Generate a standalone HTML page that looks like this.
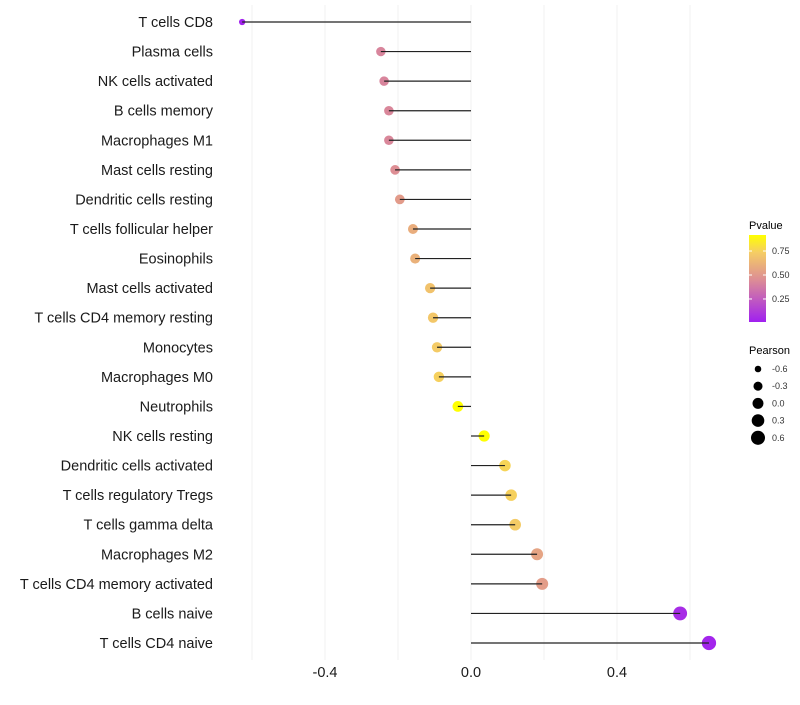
<!DOCTYPE html>
<html><head><meta charset="utf-8"><style>
html,body{margin:0;padding:0;background:#fff;}
svg text{font-family:"Liberation Sans",Arial,sans-serif;}
</style></head><body>
<svg id="chart" width="800" height="700" xmlns="http://www.w3.org/2000/svg">
<g id="grid"></g>
<g id="marks"></g>
<g id="ylabels"></g>
<g id="xlabels"></g>
<g id="legend">
  <defs><linearGradient id="pg" x1="0" y1="1" x2="0" y2="0">
    <stop offset="0" stop-color="#a020f0"/><stop offset="0.48" stop-color="#dc8c96"/><stop offset="0.8" stop-color="#f5cd64"/><stop offset="1" stop-color="#ffff00"/>
  </linearGradient></defs>
  <text x="749" y="229" font-size="11">Pvalue</text>
  <rect x="749" y="235" width="17" height="87" fill="url(#pg)"/>
  <g id="cbticks"></g>
  <text x="749" y="354" font-size="11">Pearson</text>
  <g id="sizeleg"></g>
</g>
</svg>
<script>
const categories=["T cells CD8","Plasma cells","NK cells activated","B cells memory","Macrophages M1","Mast cells resting","Dendritic cells resting","T cells follicular helper","Eosinophils","Mast cells activated","T cells CD4 memory resting","Monocytes","Macrophages M0","Neutrophils","NK cells resting","Dendritic cells activated","T cells regulatory  Tregs","T cells gamma delta","Macrophages M2","T cells CD4 memory activated","B cells naive","T cells CD4 naive"];
const pearson=[-0.627,-0.247,-0.238,-0.225,-0.225,-0.208,-0.195,-0.159,-0.153,-0.112,-0.104,-0.093,-0.088,-0.036,0.036,0.093,0.110,0.121,0.181,0.195,0.573,0.652];
const pvalue=[0.01,0.42,0.42,0.43,0.43,0.46,0.52,0.6,0.62,0.7,0.72,0.74,0.76,0.9,0.9,0.77,0.76,0.74,0.56,0.53,0.05,0.02];
const xTicks=[-0.4,0.0,0.4];
const xGrid=[-0.6,-0.4,-0.2,0,0.2,0.4,0.6];
const sizeLegend=[-0.6,-0.3,0.0,0.3,0.6];
const cbTicks=[0.25,0.5,0.75];
const NS="http://www.w3.org/2000/svg";
const x=v=>471+v*365;
const y=i=>22+i*(643-22)/(categories.length-1);
const r=v=>Math.sqrt(Math.max(4,30+32*v));
function lerp(a,b,t){return a.map((c,k)=>Math.round(c+(b[k]-c)*t));}
function col(p){const s=[[0,[160,32,240]],[0.45,[220,140,150]],[0.75,[245,205,100]],[0.9,[255,255,0]]];
 if(p>=0.9)return"rgb(255,255,0)";for(let k=0;k<s.length-1;k++){if(p<=s[k+1][0]){const t=(p-s[k][0])/(s[k+1][0]-s[k][0]);return"rgb("+lerp(s[k][1],s[k+1][1],Math.max(0,t)).join(",")+")";}}}
function mk(tag,attrs,parent){const e=document.createElementNS(NS,tag);for(const k in attrs)e.setAttribute(k,attrs[k]);parent.appendChild(e);return e;}
const grid=document.getElementById('grid');
xGrid.forEach(v=>{const l=mk('line',{x1:x(v),x2:x(v),y1:5,y2:660,stroke:'#f0f0f0','stroke-width':1},grid);

});
const marks=document.getElementById('marks');
const yl=document.getElementById('ylabels');
categories.forEach((c,i)=>{
 const pt=mk('circle',{cx:x(pearson[i]),cy:y(i),r:r(pearson[i]),fill:col(pvalue[i])},marks);
 
 
 const ln=mk('line',{x1:x(0),x2:x(pearson[i]),y1:y(i),y2:y(i),stroke:'#222','stroke-width':1.2},marks);
 
 
 const t=mk('text',{x:213,y:y(i)+5,'text-anchor':'end','font-size':14.5,fill:'#1a1a1a'},yl);t.textContent=c;
 
 
});
const xl=document.getElementById('xlabels');
xTicks.forEach(v=>{const t=mk('text',{x:x(v),y:677,'text-anchor':'middle','font-size':14.5,fill:'#1a1a1a'},xl);t.textContent=v.toFixed(1);
 
 });
const cb=document.getElementById('cbticks');
cbTicks.forEach(v=>{const yy=322-(v-0.01)/(0.917-0.01)*87;
 mk('line',{x1:749,x2:752,y1:yy,y2:yy,stroke:'#fff'},cb);mk('line',{x1:763,x2:766,y1:yy,y2:yy,stroke:'#fff'},cb);
 const t=mk('text',{x:772,y:yy+3,'font-size':9,fill:'#333'},cb);t.textContent=v.toFixed(2);
 
 });
const sl=document.getElementById('sizeleg');
sizeLegend.forEach((v,k)=>{const yy=369+k*17.2;
 const c=mk('circle',{cx:758,cy:yy,r:r(v),fill:'#000'},sl);
 
 
 const t=mk('text',{x:772,y:yy+3,'font-size':9,fill:'#333'},sl);t.textContent=v.toFixed(1);
 
 });
</script>
</body></html>
